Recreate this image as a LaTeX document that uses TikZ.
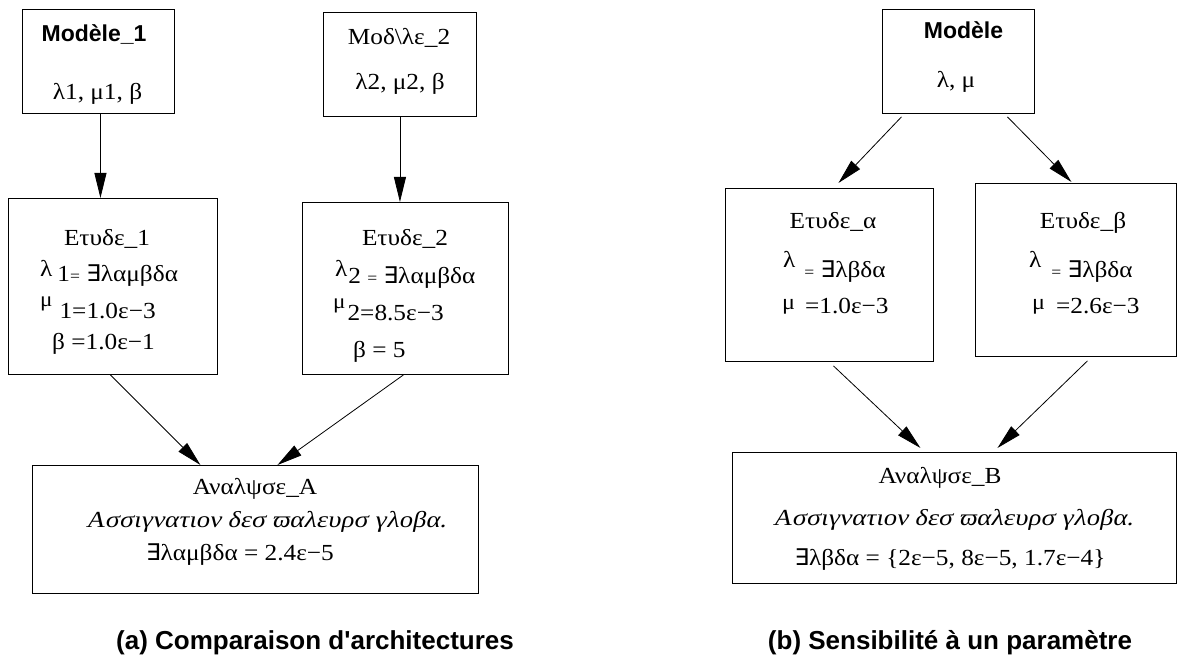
\documentclass[tikz,border=0pt]{standalone}
\usepackage{fontspec}
\setmainfont{Liberation Serif}[FakeStretch=1.1]
\newfontfamily\slfont{Liberation Serif}[FakeSlant=0.2,FakeStretch=1.15]
\newfontfamily\hvfont[Ligatures=TeXOff]{Liberation Sans}
\newfontfamily\dvfont{DejaVu Sans}
\usetikzlibrary{arrows.meta,calc}
\newcommand\exs{{\dvfont ∃}}
\newcommand\sz[1]{\fontsize{#1}{#1}\selectfont}
\begin{document}
\begin{tikzpicture}[x=1pt,y=-1pt,
  box/.style={draw=black, line width=0.9pt, inner sep=0, anchor=north west},
  txt/.style={inner sep=0, anchor=base, font=\sz{23}},
  txtl/.style={inner sep=0, anchor=base west, font=\sz{23}},
  arr/.style={-{Triangle[length=25pt,width=12pt]}, line width=0.8pt},
  captxt/.style={inner sep=0, anchor=base, font=\hvfont\bfseries\sz{26}},
  bold/.style={inner sep=0, anchor=base, font=\hvfont\bfseries\sz{23}}]
\useasboundingbox (0,0) rectangle (1177,655);
% boxes
\node[box, minimum width=152pt, minimum height=104pt] (m1) at (22,9) {};
\node[box, minimum width=153pt, minimum height=104pt] (m2) at (323,12) {};
\node[box, minimum width=209pt, minimum height=176pt] (e1) at (8,198) {};
\node[box, minimum width=206pt, minimum height=172pt] (e2) at (302,202) {};
\node[box, minimum width=446pt, minimum height=128pt] (aa) at (32,465) {};
\node[box, minimum width=152pt, minimum height=104pt] (mb) at (882,9) {};
\node[box, minimum width=208pt, minimum height=173pt] (ea) at (725,188) {};
\node[box, minimum width=201pt, minimum height=173pt] (eb) at (975,183) {};
\node[box, minimum width=444pt, minimum height=131pt] (ab) at (732,452) {};
% arrows
\draw[arr] ([xshift=2pt]m1.south) -- ([xshift=2pt]m1.south |- e1.north);
\draw[arr] (m2.south) -- (m2.south |- e2.north);
\draw[arr] ([xshift=-2.5pt]e1.south) -- ([xshift=-55pt]aa.north);
\draw[arr] ([xshift=-2pt]e2.south) -- ([xshift=22pt]aa.north);
\draw[arr] ([xshift=-57pt,yshift=-3pt]mb.south) -- ([xshift=9pt,yshift=5pt]ea.north);
\draw[arr] ([xshift=49pt,yshift=-3pt]mb.south) -- ([xshift=-4.5pt,yshift=1pt]eb.north);
\draw[arr] ([xshift=4pt,yshift=-4pt]ea.south) -- ([xshift=-34pt,yshift=4pt]ab.north);
\draw[arr] ([xshift=11.5pt,yshift=-4pt]eb.south) -- ([xshift=43pt,yshift=4pt]ab.north);
% texts left
\node[bold] (tm1a) at (94,42) {Modèle\_1};
\node[txt] (tm1b) at (97.5,100) {λ1, μ1, β};
\node[txt] (tm2a) at (399,45) {Μοδ\textbackslash λε\_2};
\node[txt] (tm2b) at (400,90) {λ2, μ2, β};
\node[txt] (te1a) at (107,245) {Ετυδε\_1};
\node[txtl] (te1b) at (40,281) {\raisebox{5pt}{λ}\hspace{5pt}1{\sz{16}=} \exs λαμβδα};
\node[txtl] (te1c) at (40,318) {\raisebox{12pt}{\sz{21}μ}\hspace{7pt}1=1.0ε−3};
\node[txtl] (te1d) at (52,349) {β =1.0ε−1};
\node[txt] (te2a) at (405,245) {Ετυδε\_2};
\node[txtl] (te2b) at (335,283) {\raisebox{7pt}{λ}\hspace{1pt}2 {\sz{16}=} \exs λαμβδα};
\node[txtl] (te2c) at (333,320) {\raisebox{12pt}{\sz{21}μ}\hspace{2pt}2=8.5ε−3};
\node[txtl] (te2d) at (353,357) {β = 5};
\node[txt] (taa1) at (255,494) {Αναλψσε\_Α};
\node[txt] (taa2) at (266,527) {\slfont Ασσιγνατιον δεσ ϖαλευρσ γλοβα.};
\node[txt] (taa3) at (240,560) {\exs λαμβδα = 2.4ε−5};
% texts right
\node[bold] (tmba) at (963.5,39) {Modèle};
\node[txt] (tmbb) at (956,88) {λ, μ};
\node[txt] (teaa) at (833,228) {Ετυδε\_α};
\node[txtl] (teab) at (783,277) {\raisebox{10pt}{λ}\hspace{9pt}{\sz{16}=} \exs λβδα};
\node[txtl] (teac) at (782,313) {\raisebox{4pt}{\sz{22}μ}\hspace{10pt}=1.0ε−3};
\node[txt] (teba) at (1083,228) {Ετυδε\_β};
\node[txtl] (tebb) at (1029,277) {\raisebox{10pt}{λ}\hspace{10pt}{\sz{16}=} \exs λβδα};
\node[txtl] (tebc) at (1032,313) {\raisebox{4pt}{\sz{22}μ}\hspace{11pt}=2.6ε−3};
\node[txt] (tab1) at (940,483) {Αναλψσε\_Β};
\node[txt] (tab2) at (953,525) {\slfont Ασσιγνατιον δεσ ϖαλευρσ γλοβα.};
\node[txt] (tab3) at (950,565) {\exs λβδα = \{2ε−5, 8ε−5, 1.7ε−4\}};
% captions
\node[captxt] (capa) at (315,649) {(a) Comparaison d'architectures};
\node[captxt] (capb) at (950,649) {(b) Sensibilité à un paramètre};
\end{tikzpicture}
\end{document}
